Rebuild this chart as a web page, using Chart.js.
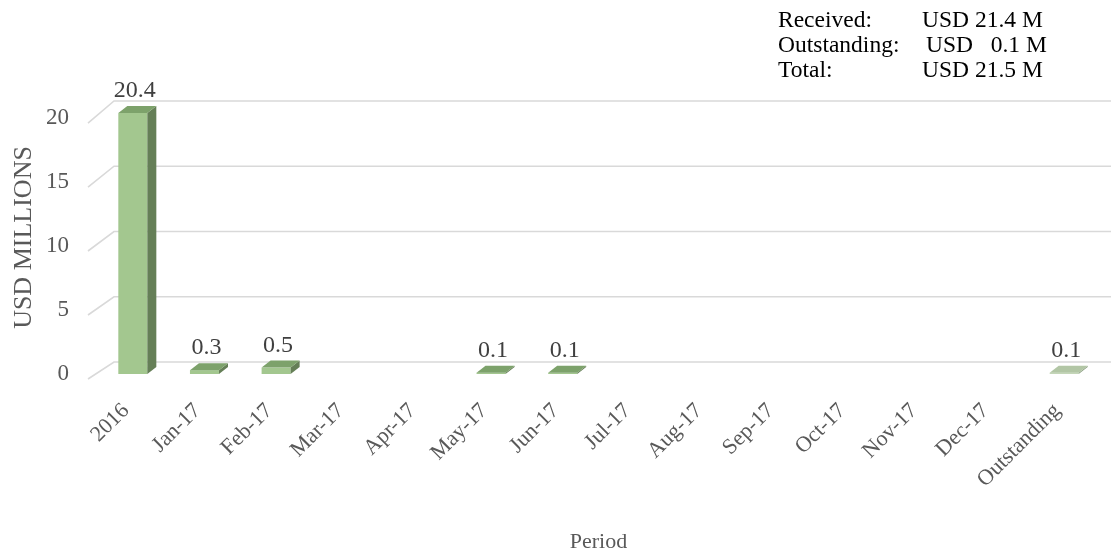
<!DOCTYPE html>
<html>
<head>
<meta charset="utf-8">
<script src="https://cdn.jsdelivr.net/npm/chart.js@4/dist/chart.umd.min.js"></script>
<style>
  html, body { margin: 0; padding: 0; background: #fff; }
  #wrap { width: 1111px; height: 557px; }
</style>
</head>
<body>
<div id="wrap"><canvas id="myChart" width="1111" height="557"></canvas></div>
<script>
const categories = ['2016', 'Jan-17', 'Feb-17', 'Mar-17', 'Apr-17', 'May-17', 'Jun-17',
    'Jul-17', 'Aug-17', 'Sep-17', 'Oct-17', 'Nov-17', 'Dec-17', 'Outstanding'];
const amounts = [20.4, 0.3, 0.5, null, null, 0.1, 0.1, null, null, null, null, null, null, 0.1];
const summaryLabels = ['Received:', 'Outstanding:', 'Total:'];
const summaryValues = ['USD 21.4 M', 'USD   0.1 M', 'USD 21.5 M'];

const serif = "'Liberation Serif', 'Times New Roman', serif";
const depth = { dx: 9, dy: 7 };

function palette(i) {
    if (categories[i] === 'Outstanding') {
        return { front: '#c4d6b8', side: '#8ea284', top: '#b2c6a5' };
    }
    return { front: '#a3c78f', side: '#657f57', top: '#7da26b' };
}

// back wall gridlines + the slanted edges on the left
const wallPlugin = {
    id: 'wall',
    beforeDatasetsDraw(chart) {
        const ctx = chart.ctx;
        const front = chart.scales.y;
        const back = chart.scales.yBack;
        ctx.save();
        ctx.strokeStyle = '#d9d9d9';
        ctx.lineWidth = 1.6;
        back.ticks.forEach((t) => {
            const yb = back.getPixelForValue(t.value);
            const yf = front.getPixelForValue(t.value) + 5;
            ctx.beginPath();
            ctx.moveTo(88, yf);
            ctx.lineTo(114, yb);
            ctx.lineTo(chart.width, yb);
            ctx.stroke();
        });
        ctx.restore();
    }
};

// side/top faces of each bar and the value labels
const barFacePlugin = {
    id: 'barFaces',
    afterDatasetsDraw(chart) {
        const ctx = chart.ctx;
        const meta = chart.getDatasetMeta(0);
        ctx.save();
        meta.data.forEach((bar, i) => {
            if (amounts[i] == null) return;
            const { x, y, base, width } = bar.getProps(['x', 'y', 'base', 'width'], true);
            const l = x - width / 2, r = x + width / 2;
            const pal = palette(i);
            ctx.fillStyle = pal.side;
            ctx.beginPath();
            ctx.moveTo(r, y);
            ctx.lineTo(r + depth.dx, y - depth.dy);
            ctx.lineTo(r + depth.dx, base - depth.dy);
            ctx.lineTo(r, base);
            ctx.closePath();
            ctx.fill();
            ctx.fillStyle = pal.top;
            ctx.beginPath();
            ctx.moveTo(l, y);
            ctx.lineTo(l + depth.dx, y - depth.dy);
            ctx.lineTo(r + depth.dx, y - depth.dy);
            ctx.lineTo(r, y);
            ctx.closePath();
            ctx.fill();

            ctx.fillStyle = '#404040';
            ctx.font = '24px ' + serif;
            ctx.textAlign = 'center';
            ctx.textBaseline = 'alphabetic';
            ctx.fillText(amounts[i].toFixed(1), x + 2, y - depth.dy - 9);
        });
        ctx.restore();
    }
};

const summaryPlugin = {
    id: 'summary',
    afterDraw(chart) {
        const ctx = chart.ctx;
        ctx.save();
        ctx.fillStyle = '#000';
        ctx.font = '23.5px ' + serif;
        ctx.textBaseline = 'alphabetic';
        summaryLabels.forEach((lab, i) => {
            ctx.fillText(lab, 778, 27 + i * 25);
            ctx.fillText(summaryValues[i], i === 1 ? 926 : 922, 27 + i * 25);
        });
        ctx.restore();
    }
};

function createChart() {
    const ctx = document.getElementById('myChart').getContext('2d');
    const config = {
        type: 'bar',
        data: {
            labels: categories,
            datasets: [
                {
                    label: 'Amount',
                    data: amounts,
                    backgroundColor: (c) => palette(c.dataIndex).front,
                    borderWidth: 0,
                    barPercentage: 0.405,
                    categoryPercentage: 1
                }
            ]
        },
        options: {
            responsive: false,
            animation: false,
            layout: { padding: { top: 101, right: 11, bottom: 0, left: 0 } },
            scales: {
                x: {
                    grid: { display: false },
                    border: { display: false },
                    ticks: {
                        minRotation: 45,
                        maxRotation: 45,
                        padding: 16,
                        labelOffset: -7,
                        color: '#595959',
                        font: { family: serif, size: 22 }
                    },
                    title: {
                        display: true,
                        text: 'Period',
                        color: '#595959',
                        font: { family: serif, size: 22 },
                        padding: { top: 0, bottom: 2 }
                    },
                    afterFit: (s) => { s.height = 183; }
                },
                y: {
                    min: 0,
                    max: 21.33,
                    grid: { display: false },
                    border: { display: false },
                    ticks: {
                        stepSize: 5,
                        includeBounds: false,
                        padding: 20,
                        color: '#595959',
                        font: { family: serif, size: 23 }
                    },
                    title: {
                        display: true,
                        text: 'USD MILLIONS',
                        color: '#595959',
                        font: { family: serif, size: 26 },
                        padding: { top: 9, bottom: 0 }
                    },
                    afterFit: (s) => { s.width = 97; }
                },
                yBack: {
                    display: false,
                    position: 'right',
                    min: -0.92,
                    max: 20,
                    ticks: { stepSize: 5, includeBounds: false }
                }
            },
            plugins: {
                legend: { display: false },
                tooltip: { enabled: false }
            }
        },
        plugins: [wallPlugin, barFacePlugin, summaryPlugin]
    };
    return new Chart(ctx, config);
}

createChart();
</script>
</body>
</html>
